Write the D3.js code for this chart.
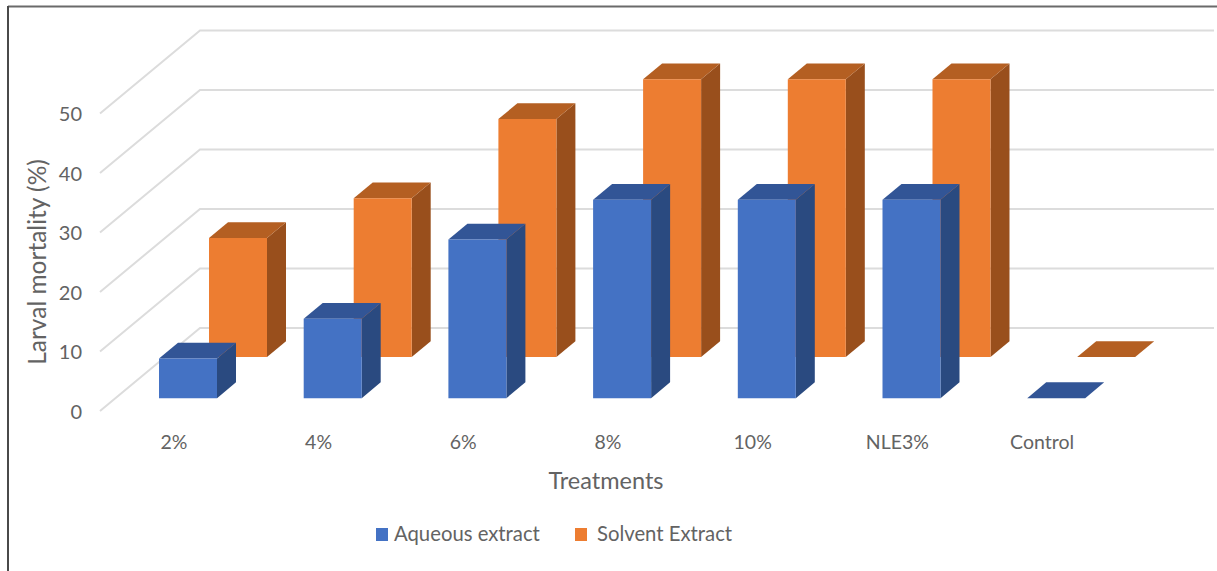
<!DOCTYPE html>
<html>
<head>
<meta charset="utf-8">
<style>
html, body { margin: 0; padding: 0; background: #fff; overflow: hidden; }
text { font-family: Lato, "Open Sans", sans-serif; fill: #636363; }
</style>
<script src="https://cdn.jsdelivr.net/npm/d3@7/dist/d3.min.js"></script>
</head>
<body>
<svg id="chart" width="1217" height="571"></svg>
<script>
const categories = ["2%", "4%", "6%", "8%", "10%", "NLE3%", "Control"];
const aqueous = [6.67, 13.33, 26.67, 33.33, 33.33, 33.33, 0];
const solvent = [20, 26.67, 40, 46.67, 46.67, 46.67, 0];
const yTicks = [0, 10, 20, 30, 40, 50];
const seriesNames = ["Aqueous extract", "Solvent Extract"];
const seriesShades = [
  { front: "#4472c4", top: "#325596", side: "#2a4a80" },
  { front: "#ed7d31", top: "#b45f22", side: "#994f1c" }
];

const svg = d3.select("#chart");

// Vertical value scale on the front edge of the floor.
const y = d3.scaleLinear().domain([0, 50]).range([411, 113.5]);
// Floor depth: 0 is the front edge, 1 is the back wall.
const depthX = d3.scaleLinear().domain([0, 1]).range([0, 100]);
const depthY = d3.scaleLinear().domain([0, 1]).range([0, -83]);
const x = d3.scaleBand().domain(categories).range([101.5, 1114.4]);

const project = (px, value, depth) => [px + depthX(depth), y(value) + depthY(depth)];
const pathOf = pts => d3.line()(pts) + "Z";

// Chart frame
svg.append("path")
  .attr("d", "M1217,6.5H8")
  .attr("fill", "none").attr("stroke", "#6a6a6a").attr("stroke-width", 2);
svg.append("path")
  .attr("d", "M8,6V571")
  .attr("fill", "none").attr("stroke", "#4a4a4a").attr("stroke-width", 2);

// Gridlines: run along the side floor edge and then across the back wall.
svg.append("g").selectAll("path").data(yTicks).join("path")
  .attr("d", v => d3.line()([project(100, v, 0), project(100, v, 1), [1214, project(100, v, 1)[1]]]))
  .attr("fill", "none").attr("stroke", "#dcdcdc").attr("stroke-width", 2);

// Bars: each series sits on its own row of the floor, back row first.
const rows = [
  { values: solvent, shade: seriesShades[1], depth0: 0.65, depth1: 0.84, offset: 107.5 },
  { values: aqueous, shade: seriesShades[0], depth0: 0.155, depth1: 0.345, offset: 57.5 }
];
const barWidth = 58;

rows.forEach(row => {
  const g = svg.append("g");
  const shift = row.depth0 * depthX(1);
  const bars = g.selectAll("g").data(categories.map((c, i) => ({ c, v: row.values[i] })).reverse()).join("g");
  const left = d => x(d.c) + row.offset - shift;
  const right = d => left(d) + barWidth;
  bars.filter(d => d.v > 0).append("path")
    .attr("fill", row.shade.side)
    .attr("d", d => pathOf([
      project(right(d), 0, row.depth0), project(right(d), 0, row.depth1),
      project(right(d), d.v, row.depth1), project(right(d), d.v, row.depth0)]));
  bars.append("path")
    .attr("fill", row.shade.top)
    .attr("d", d => pathOf([
      project(left(d), d.v, row.depth0), project(right(d), d.v, row.depth0),
      project(right(d), d.v, row.depth1), project(left(d), d.v, row.depth1)]));
  bars.filter(d => d.v > 0).append("path")
    .attr("fill", row.shade.front)
    .attr("d", d => pathOf([
      project(left(d), 0, row.depth0), project(right(d), 0, row.depth0),
      project(right(d), d.v, row.depth0), project(left(d), d.v, row.depth0)]));
});

// Value axis
const yAxis = svg.append("g").attr("transform", "translate(82,1)")
  .call(d3.axisLeft(y).tickValues(yTicks).tickSize(0).tickPadding(0));
yAxis.select(".domain").remove();
yAxis.selectAll("text").style("font-family", "Lato").style("font-size", "20px").attr("fill", "#636363");

// Category axis
const xAxis = svg.append("g").attr("transform", "translate(0,442)")
  .call(d3.axisBottom(x).tickSize(0).tickPadding(0));
xAxis.select(".domain").remove();
xAxis.selectAll("text").style("font-family", "Lato").style("font-size", "19.5px").attr("fill", "#636363")
  .attr("dy", "0.35em").attr("y", 0);

// Axis titles
svg.append("text").attr("x", 606).attr("y", 489).attr("text-anchor", "middle")
  .style("font-size", "23.5px").text("Treatments");
svg.append("text").attr("transform", "translate(46,262) rotate(-90)").attr("text-anchor", "middle")
  .style("font-size", "24.5px").text("Larval mortality (%)");

// Legend
const legendX = [376, 575];
const legendTextX = [394, 597];
seriesNames.forEach((name, i) => {
  svg.append("rect").attr("x", legendX[i]).attr("y", 528).attr("width", 12).attr("height", 13)
    .attr("fill", seriesShades[i].front);
  svg.append("text").attr("x", legendTextX[i]).attr("y", 541)
    .style("font-size", "20.3px").text(name);
});
</script>
</body>
</html>
